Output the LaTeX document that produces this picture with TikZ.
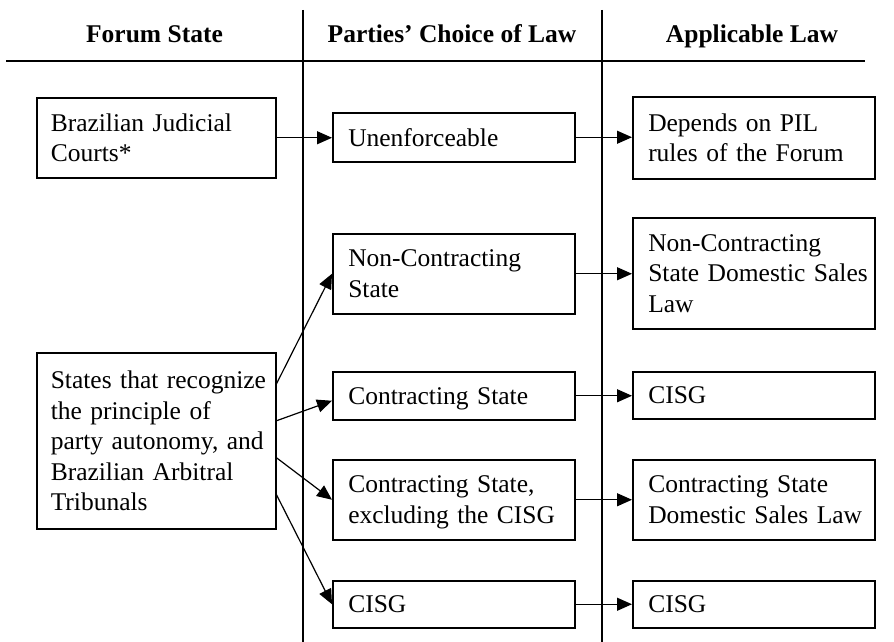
\documentclass[tikz,border=0pt]{standalone}
\usepackage{fontspec}
\setmainfont{Liberation Serif}
\usetikzlibrary{arrows.meta,calc}
\newcommand{\oneline}[1]{\mbox{#1}}
\newcommand{\lastline}[1]{\raisebox{0pt}[\height][0pt]{#1}}
\tikzset{
  box/.style={draw, line width=1.5pt, anchor=north west, align=left,
    inner xsep=14pt, inner ysep=0pt, text width=211pt,
    font=\fontsize{25.5}{30.5}\selectfont},
  lbox/.style={box, minimum width=239pt},
  wbox/.style={box, minimum width=242pt},
  hdr/.style={anchor=base, font=\fontsize{25.5}{30.5}\selectfont\bfseries},
  conn/.style={line width=1.2pt, -{Triangle[length=15pt,width=13pt]}},
  rule/.style={line width=1.3pt}
}
\begin{document}
\begin{tikzpicture}[x=1pt,y=-1pt]
\useasboundingbox (0,0) rectangle (894,642);
% headers
\node[hdr] (h1) at (154.5,43) {Forum State};
\node[hdr] (h2) at (452,43) {Parties’ Choice of Law};
\node[hdr] (h3) at (752,43) {Applicable Law};
\coordinate (hl) at (6,61);
\coordinate (hr) at (865,61);
\draw[line width=1.8pt] (hl) -- (hr);
\coordinate (v1t) at (303,10);
\coordinate (v1b) at (303,642);
\coordinate (v2t) at (602,10);
\coordinate (v2b) at (602,642);
\draw[rule] (v1t) -- (v1b);
\draw[rule] (v2t) -- (v2b);
% left column
\node[lbox, minimum height=80pt] (bjc) at (36,97) {\oneline{Brazilian Judicial}\\\lastline{Courts*}};
\node[lbox, minimum height=176pt] (states) at (36,352) {\oneline{States that recognize}\\\oneline{the principle of}\\\oneline{party autonomy, and}\\\oneline{Brazilian Arbitral}\\\lastline{Tribunals}};
% middle column
\node[wbox, minimum height=49pt] (unen) at (332,112) {\lastline{Unenforceable}};
\node[wbox, minimum height=80pt] (ncs) at (332,233) {\oneline{Non-Contracting}\\\lastline{State}};
\node[wbox, minimum height=48pt] (cs) at (332,371) {\lastline{Contracting State}};
\node[wbox, minimum height=80pt] (csx) at (332,459) {\oneline{Contracting State,}\\\lastline{excluding the CISG}};
\node[wbox, minimum height=47pt] (cisgm) at (332,580) {\lastline{CISG}};
% right column
\node[wbox, minimum height=82pt] (pil) at (632,96) {\oneline{Depends on PIL}\\\lastline{rules of the Forum}};
\node[wbox, minimum height=111pt] (ncd) at (632,217) {\oneline{Non-Contracting}\\\oneline{State Domestic Sales}\\\lastline{Law}};
\node[wbox, minimum height=47pt] (cisga) at (632,371) {\lastline{CISG}};
\node[wbox, minimum height=80pt] (csd) at (632,459) {\oneline{Contracting State}\\\lastline{Domestic Sales Law}};
\node[wbox, minimum height=47pt] (cisgb) at (632,580) {\lastline{CISG}};
% horizontal connectors
\draw[conn] (bjc.east) -- (bjc.east -| unen.west);
\draw[conn] (unen.east) -- (unen.east -| pil.west);
\draw[conn] (ncs.east) -- (ncs.east -| ncd.west);
\draw[conn] (cs.east) -- (cs.east -| cisga.west);
\draw[conn] (csx.east) -- (csx.east -| csd.west);
\draw[conn] (cisgm.east) -- (cisgm.east -| cisgb.west);
% diagonal connectors from left box
\coordinate (s1) at ($(states.east)+(0,-57)$);
\coordinate (s2) at ($(states.east)+(0,-20)$);
\coordinate (s3) at ($(states.east)+(0,17)$);
\coordinate (s4) at ($(states.east)+(0,54)$);
\coordinate (t2) at ($(cs.west)+(0,5)$);
\draw[conn] (s1) -- (ncs.west);
\draw[conn] (s2) -- (t2);
\draw[conn] (s3) -- (csx.west);
\draw[conn] (s4) -- (cisgm.west);
\end{tikzpicture}
\end{document}
